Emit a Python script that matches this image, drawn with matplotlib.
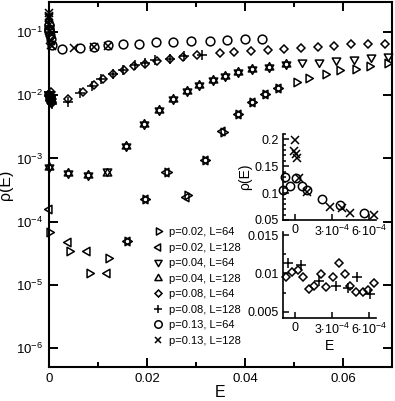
import numpy as np
import matplotlib
matplotlib.use('Agg')
import matplotlib.pyplot as plt
from matplotlib.path import Path
from matplotlib.ticker import FixedLocator, MultipleLocator, NullLocator, FixedFormatter

plt.rcParams['font.family'] = ['Liberation Sans', 'DejaVu Sans']
plt.rcParams['mathtext.fontset'] = 'custom'
plt.rcParams['mathtext.rm'] = 'Liberation Sans'
plt.rcParams['mathtext.it'] = 'Liberation Sans:italic'
plt.rcParams['mathtext.bf'] = 'Liberation Sans:bold'

# ---------------- data ----------------
labels = ["p=0.02, L=64", "p=0.02, L=128", "p=0.04, L=64", "p=0.04, L=128",
          "p=0.08, L=64", "p=0.08, L=128", "p=0.13, L=64", "p=0.13, L=128"]

# p=0.02
E_p02_L64 = [0.0, 0.0041, 0.0082, 0.0121, 0.0160, 0.0196, 0.0240, 0.0281, 0.0318, 0.0356,
             0.0386, 0.0414, 0.0441, 0.0468, 0.0505, 0.0529, 0.0563, 0.0592, 0.0624, 0.0654, 0.0690]
R_p02_L64 = [6.8e-5, 3.47e-5, 1.55e-5, 2.65e-5, 4.9e-5, 2.3e-4, 6.0e-4, 2.6e-4, 9.5e-4, 2.6e-3,
             5.1e-3, 7.8e-3, 1.06e-2, 1.32e-2, 1.63e-2, 1.88e-2, 2.16e-2, 2.5e-2, 2.65e-2, 2.9e-2, 3.2e-2]
E_p02_L128 = [0.0, 0.0038, 0.0078, 0.0118, 0.0160, 0.0196, 0.0238, 0.0279, 0.0318, 0.0354,
              0.0386, 0.0414, 0.0441, 0.0468]
R_p02_L128 = [1.58e-4, 4.8e-5, 3.4e-5, 1.52e-5, 4.9e-5, 2.3e-4, 6.2e-4, 2.5e-4, 9.5e-4, 2.7e-3,
              5.1e-3, 7.8e-3, 1.06e-2, 1.32e-2]

# p=0.04
E_p04_L64 = [0.0, 0.0039, 0.0079, 0.0118, 0.0157, 0.0193, 0.0225, 0.0254, 0.0282, 0.0306, 0.0334,
             0.0359, 0.0386, 0.0415, 0.0449, 0.0484, 0.0516, 0.0551, 0.0586, 0.0622, 0.0657, 0.0692]
R_p04_L64 = [7.4e-4, 5.9e-4, 5.4e-4, 6.4e-4, 1.55e-3, 3.48e-3, 5.87e-3, 8.65e-3, 1.18e-2, 1.45e-2, 1.73e-2,
             2.0e-2, 2.34e-2, 2.59e-2, 2.82e-2, 3.1e-2, 3.38e-2, 3.38e-2, 3.6e-2, 3.74e-2, 3.98e-2, 4.17e-2]
E_p04_L128 = [0.0, 0.0039, 0.0079, 0.0118, 0.0157, 0.0193, 0.0225, 0.0254, 0.0282, 0.0306, 0.0334,
              0.0359, 0.0386, 0.0415, 0.0449, 0.0484]
R_p04_L128 = [7.4e-4, 5.9e-4, 5.4e-4, 5.8e-4, 1.55e-3, 3.48e-3, 5.87e-3, 8.65e-3, 1.18e-2, 1.45e-2, 1.73e-2,
              2.0e-2, 2.34e-2, 2.59e-2, 2.82e-2, 3.1e-2]

# p=0.08 (small-E part shown in lower inset)
E_p08_L64_in = [-0.76e-4, -0.27e-4, 0.19e-4, 0.65e-4, 1.14e-4, 1.54e-4, 2.08e-4, 2.49e-4, 3.08e-4,
                3.57e-4, 4.05e-4, 4.5e-4, 5.0e-4, 5.5e-4, 5.95e-4, 6.4e-4]
R_p08_L64_in = [0.0096, 0.0102, 0.0104, 0.0096, 0.0080, 0.0084, 0.0099, 0.0083, 0.0095,
                0.0113, 0.0099, 0.0084, 0.0076, 0.0076, 0.0079, 0.0088]
E_p08_L64 = [0.0039, 0.0069, 0.0092, 0.0111, 0.0131, 0.0153, 0.0174, 0.0196, 0.0220, 0.0247, 0.0273,
             0.0303, 0.0348, 0.0378, 0.0412, 0.0446, 0.0480, 0.0514, 0.0548, 0.0582, 0.0616, 0.0652, 0.0686]
R_p08_L64 = [0.0087, 0.0113, 0.0144, 0.018, 0.0216, 0.025, 0.0289, 0.0318, 0.035, 0.037, 0.040,
             0.043, 0.046, 0.0478, 0.0505, 0.0518, 0.0537, 0.0564, 0.0585, 0.0607, 0.064, 0.064, 0.066]
E_p08_L128_in = [-0.62e-4, 0.46e-4, 1.95e-4, 3.3e-4, 4.3e-4, 5.05e-4, 6.1e-4]
R_p08_L128_in = [0.0114, 0.0111, 0.0090, 0.0084, 0.0081, 0.0095, 0.0073]
E_p08_L128 = [0.0039, 0.0063, 0.0087, 0.0107, 0.0131, 0.0152, 0.0176, 0.0196, 0.0216, 0.0247, 0.0276, 0.0312]
R_p08_L128 = [0.0079, 0.011, 0.014, 0.0178, 0.022, 0.0256, 0.030, 0.0326, 0.036, 0.038, 0.0417, 0.043]

# p=0.13 (small-E part shown in upper inset)
E_p13_L64_in = [-0.97e-4, -0.85e-4, -0.4e-4, 0.1e-4, 0.55e-4, 0.95e-4, 2.16e-4, 3.65e-4, 5.6e-4]
R_p13_L64_in = [0.105, 0.130, 0.113, 0.128, 0.113, 0.105, 0.090, 0.077, 0.063]
E_p13_L64 = [0.0026, 0.0063, 0.0092, 0.0120, 0.0150, 0.0184, 0.0218, 0.0254, 0.0289, 0.0329,
             0.0364, 0.0399, 0.0434]
R_p13_L64 = [0.055, 0.056, 0.0585, 0.062, 0.064, 0.066, 0.069, 0.070, 0.072, 0.072, 0.075, 0.0765, 0.079]
E_p13_L128_in = [0.0, -0.1e-4, 0.05e-4, 0.15e-4, 0.3e-4, 1.0e-4, 2.8e-4, 3.8e-4, 4.5e-4, 6.4e-4]
R_p13_L128_in = [0.198, 0.179, 0.173, 0.166, 0.128, 0.103, 0.075, 0.072, 0.063, 0.060]
E_p13_L128 = [0.0052, 0.0092, 0.0120]
R_p13_L128 = [0.056, 0.0585, 0.061]

main_xticks = [0.0, 0.02, 0.04, 0.06]
main_xticklabels = ["0", "0.02", "0.04", "0.06"]
in_xticks = [0.0, 3e-4, 6e-4]
in_xticklabels = ["0", r"3$\cdot$10$^{-4}$", r"6$\cdot$10$^{-4}$"]
in1_yticks = [0.05, 0.1, 0.15, 0.2]
in1_yticklabels = ["0.05", "0.1", "0.15", "0.2"]
in2_yticks = [0.005, 0.01, 0.015]
in2_yticklabels = ["0.005", "0.01", "0.015"]

# ---------------- markers ----------------
def tri(angle):
    a = np.deg2rad(angle + np.array([90.0, 210.0, 330.0]))
    v = np.column_stack([np.cos(a), np.sin(a)])
    v = np.vstack([v, v[0]])
    return Path(v, [Path.MOVETO, Path.LINETO, Path.LINETO, Path.CLOSEPOLY])

TRI_UP, TRI_DOWN, TRI_LEFT, TRI_RIGHT = tri(0), tri(180), tri(90), tri(-90)

styles = [
    dict(marker=TRI_RIGHT, ms=7.0),
    dict(marker=TRI_LEFT, ms=7.0),
    dict(marker=TRI_DOWN, ms=7.0),
    dict(marker=TRI_UP, ms=7.0),
    dict(marker='D', ms=4.2),
    dict(marker='+', ms=7.2),
    dict(marker='o', ms=6.3),
    dict(marker='x', ms=5.6),
]

main_data = [
    (E_p02_L64, R_p02_L64),
    (E_p02_L128, R_p02_L128),
    (E_p04_L64, R_p04_L64),
    (E_p04_L128, R_p04_L128),
    (E_p08_L64_in + E_p08_L64, R_p08_L64_in + R_p08_L64),
    (E_p08_L128_in + E_p08_L128, R_p08_L128_in + R_p08_L128),
    (E_p13_L64_in + E_p13_L64, R_p13_L64_in + R_p13_L64),
    (E_p13_L128_in + E_p13_L128, R_p13_L128_in + R_p13_L128),
]

W, H = 395, 401
fig = plt.figure(figsize=(W / 100, H / 100), dpi=100)

def px_axes(x0, y0, x1, y1):
    return fig.add_axes([x0 / W, 1 - y1 / H, (x1 - x0) / W, (y1 - y0) / H])

mew = 1.1
ax = px_axes(49, 2, 392, 367)
handles = []
for (E, R), st, lab in zip(main_data, styles, labels):
    h, = ax.plot(E, R, linestyle='none', marker=st['marker'], ms=st['ms'], mfc='none',
                 mec='black', mew=mew, clip_on=False, label=lab, zorder=3)
    handles.append(h)

ax.set_yscale('log')
ax.set_xlim(0, 0.07)
ax.set_ylim(5e-7, 0.3)
ax.yaxis.set_major_locator(FixedLocator([1e-6, 1e-5, 1e-4, 1e-3, 1e-2, 1e-1]))
ax.yaxis.set_minor_locator(NullLocator())
ax.xaxis.set_major_locator(FixedLocator(main_xticks))
ax.xaxis.set_major_formatter(FixedFormatter(main_xticklabels))
ax.xaxis.set_minor_locator(MultipleLocator(0.01))
for s in ax.spines.values():
    s.set_linewidth(1.5)
ax.tick_params(which='both', direction='in', top=True, right=True, width=1.4, labelsize=9.5)
ax.tick_params(which='major', length=6.5, pad=4.5)
ax.tick_params(which='minor', length=3.5)
ax.set_xlabel("E", fontsize=11.5, labelpad=0)
ax.set_ylabel("ρ(E)", fontsize=11.5, labelpad=1.5)

leg = ax.legend(handles=handles, loc='upper left', bbox_to_anchor=(152.5 / W, 1 - 227 / H),
                bbox_transform=fig.transFigure, frameon=False, fontsize=8,
                handlelength=0.95, handletextpad=0.55, labelspacing=0.5, borderpad=0,
                borderaxespad=0, markerscale=0.85)

# ---------------- insets ----------------
def style_inset(a, yticks, yticklabels, ylim):
    a.set_facecolor('none')
    a.spines['top'].set_visible(False)
    a.spines['right'].set_visible(False)
    for s in ('left', 'bottom'):
        a.spines[s].set_linewidth(1.2)
    a.set_xlim(-1e-4, 6.6e-4)
    a.set_ylim(*ylim)
    a.xaxis.set_major_locator(FixedLocator(in_xticks))
    a.xaxis.set_major_formatter(FixedFormatter(in_xticklabels))
    a.xaxis.set_minor_locator(NullLocator())
    a.yaxis.set_major_locator(FixedLocator(yticks))
    a.yaxis.set_major_formatter(FixedFormatter(yticklabels))
    a.tick_params(which='both', direction='in', width=1.1, labelsize=9)
    a.tick_params(which='major', length=4.5, pad=3)
    a.tick_params(which='minor', length=2.2)

in1 = px_axes(283, 134, 376, 220)
in1.plot(E_p13_L64_in, R_p13_L64_in, linestyle='none', marker='o', ms=6.0, mfc='none',
         mec='black', mew=mew, clip_on=False)
in1.plot(E_p13_L128_in, R_p13_L128_in, linestyle='none', marker='x', ms=5.6, mfc='none',
         mec='black', mew=mew, clip_on=False)
style_inset(in1, in1_yticks, in1_yticklabels, (0.05, 0.21))
in1.yaxis.set_minor_locator(MultipleLocator(0.01))
in1.set_ylabel("ρ(E)", fontsize=10, labelpad=2)

in2 = px_axes(283, 232, 376, 318)
in2.plot(E_p08_L64_in, R_p08_L64_in, linestyle='none', marker='D', ms=4.0, mfc='none',
         mec='black', mew=mew, clip_on=False)
in2.plot(E_p08_L128_in, R_p08_L128_in, linestyle='none', marker='+', ms=7.0, mfc='none',
         mec='black', mew=mew, clip_on=False)
style_inset(in2, in2_yticks, in2_yticklabels, (0.0042, 0.0154))
in2.yaxis.set_minor_locator(MultipleLocator(0.0025))
in2.set_xlabel("E", fontsize=10, labelpad=1)

fig.savefig("out.png", dpi=100)
